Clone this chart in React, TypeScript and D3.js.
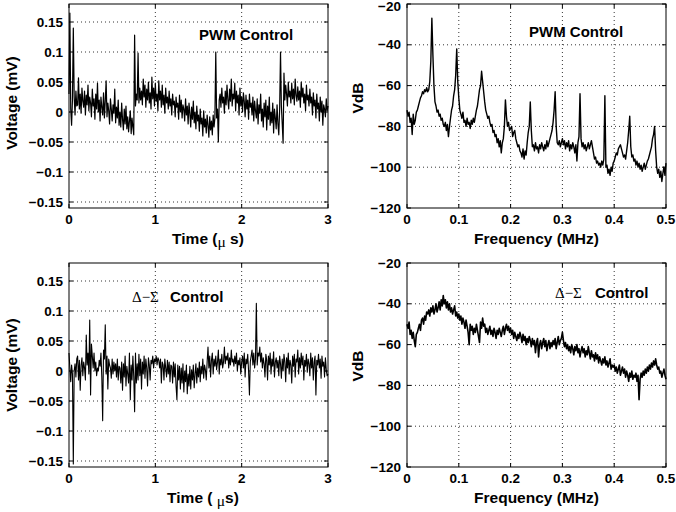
import React from 'react';
import * as d3 from 'd3';

// ---------- axis ticks ----------
const timeTicks = [0, 1, 2, 3];
const timeTickLabels = ['0', '1', '2', '3'];
const voltTicks = [-0.15, -0.1, -0.05, 0, 0.05, 0.1, 0.15];
const voltTickLabels = ['\u22120.15', '\u22120.1', '\u22120.05', '0', '0.05', '0.1', '0.15'];
const freqTicks = [0, 0.1, 0.2, 0.3, 0.4, 0.5];
const freqTickLabels = ['0', '0.1', '0.2', '0.3', '0.4', '0.5'];
const dbTicks = [-120, -100, -80, -60, -40, -20];
const dbTickLabels = ['\u2212120', '\u2212100', '\u221280', '\u221260', '\u221240', '\u221220'];

// sample spacing of the traces
const timeStep = 0.01; // µs
const freqStep = 0.002; // MHz

// ---------- PWM control: time trace (mV), t = 0 .. 3 µs ----------
const pwmTime = [
  .030, .165, .005, -.022, .020, .140, .025, -.005, .035, .010,
  .012, .057, .005, .030, -.002, .040, .018, .008, .035, -.005,
  .028, .012, .045, .002, .025, .015, -.008, .038, .010, .022,
  -.012, .030, .005, .048, .000, .020, -.015, .025, .008, -.005,
  .032, -.010, .018, .052, -.008, .015, .002, -.020, .022, .005,
  -.015, .012, -.002, .038, -.018, .008, -.010, .020, -.022, .000,
  -.025, .015, -.012, -.030, .005, -.020, .010, -.028, -.008, -.033,
  -.015, .002, -.036, -.010, -.025,
  -.038, .128, .010, .030, .020, .098, .015, .040, .020, .035,
  .012, .055, .025, .045, .008, .038, .020, .050, .015, .032,
  .005, .058, .022, .040, .010, .048, .018, .030, .002, .052,
  .020, .035, .008, .045, .012, .028, -.002, .040, .015, .025,
  .005, .035, .010, .022, -.005, .030, .012, .018, -.008, .025,
  .008, .015, -.012, .028, .000, .020, -.010, .012, .005, -.015,
  .022, -.005, .010, -.020, .015, -.002, -.025, .008, -.012, .018,
  -.018, .000, -.028, .010, -.015, -.005, -.032, .005, -.020, -.010,
  -.040, .002, -.025, -.012, -.035, -.005, -.022, -.042, -.008, -.030,
  -.015, -.038, -.005, -.025, -.010,
  .100, -.010, .005, -.050, .020,
  .030, .008, .040, .015, .025, -.002, .035, .012, .045, .020,
  .005, .038, .018, .055, .010, .030, .022, .048, .002, .035,
  .015, .028, -.005, .040, .010, .025, .000, .032, .018, -.008,
  .028, .005, .020, -.012, .030, .008, .015, -.005, .025, -.015,
  .018, .002, -.010, .022, -.020, .012, -.002, .030, -.015, .005,
  -.025, .015, -.008, .020, -.030, .010, -.012, .025, -.022, .000,
  -.018, .015, -.035, .005, -.010, -.028, .012, -.020, -.038, .005,
  .100, .010, -.020, -.052, .065,
  .020, .045, .030, .010, .050, .025, .035, .015, .048, .022,
  .038, .012, .055, .028, .018, .042, .020, .035, .008, .050,
  .025, .040, .015, .030, .002, .045, .020, .028, .010, .038,
  .015, .025, -.005, .032, .010, .020, -.010, .030, .005, .015,
  -.015, .025, .000, .018, -.022, .012, .005, -.008, .022, .002,
  .010,
];

// ---------- Delta-Sigma control: time trace (mV) ----------
const dsTime = [
  .030, .005, -.018, .010, -.005, -.155, .000, .012, -.010, .020,
  .025, -.015, .018, -.032, .010, .022, -.008, .015, .005, -.015,
  .060, .010, .030, -.005, .085, -.040, .045, .025, .005, .030,
  .000, .015, -.008, .005, .000, .018, .008, .030, -.010, -.083,
  .035, .020, .077, -.005, .025, -.030, .020, .010, .005, -.012,
  .020, -.005, .015, .000, .012, -.010, .020, -.015, .008, .005,
  -.020, .015, -.032, .012, -.010, .025, -.025, .008, -.005, -.020,
  .030, -.048, .010, -.015, .025, -.010, -.068, .030, -.020, .012,
  -.015, .028, -.008, .020, -.030, .015, -.005, .025, -.012, .020,
  .005, -.025, .022, .010, -.015, .018, .012, .025, .005, .020,
  .015, .025, .010, .022, .018, .005, .020, -.020, .015, .010,
  -.015, .020, .005, -.010, .018, -.005, .015, -.018, .010, .008,
  -.020, .015, -.010, .012, -.025, -.048, .010, -.015, .008, -.030,
  .005, -.020, .012, -.035, .000, -.018, .010, -.038, -.005, -.025,
  .008, -.030, .002, -.015, .010, -.028, -.005, .012, -.020, .005,
  -.010, .015, -.018, .008, -.005, .020, -.012, .010, .002, -.015,
  .015, .040, .005, .025, -.010, .018, .030, -.005, .020, .008,
  .025, .002, .015, .035, -.005, .020, .010, .028, .005, .015,
  .040, .012, .025, .018, .030, .005, .022, .010, .035, .015,
  .020, .008, .025, .012, .030, .000, .018, .010, .022, -.005,
  .015, .025, .005, .030, -.010, .020, .012, .028, .000, -.040,
  .015, .025, .035, .010, .030, .005, .020, .113, .010, .030,
  .025, .040, .015, .030, .005, .022, .012, -.010, .028, .018,
  -.015, .025, .010, .030, -.005, .020, .008, .032, -.010, .015,
  .022, .005, .018, -.008, .025, .012, -.012, .020, .000, .028,
  .015, -.018, .022, .005, .030, -.005, .018, .010, -.020, .025,
  .008, .028, -.010, .020, .015, .035, -.005, .022, .005, .030,
  .010, .025, -.015, .018, .008, .028, -.002, .020, .012, -.008,
  .030, .005, .022, -.015, .015, .025, -.040, .018, .010, .028,
  .005, .020, -.012, .025, .008, .015, -.010, .022, .002, -.008,
  -.005,
];

// ---------- PWM control: spectrum (VdB), f = 0 .. 0.5 MHz ----------
const pwmSpec = [
  -72, -75, -73, -78, -76, -84, -74, -79, -77, -73,
  -72, -70, -68, -66, -65, -63, -64, -62, -63, -61,
  -63, -62, -58, -48, -27, -45, -60, -68, -70, -73,
  -72, -75, -74, -77, -76, -79, -80, -78, -82, -79,
  -85, -80, -76, -72, -70, -65, -62, -55, -42, -58,
  -66, -72, -74, -76, -73, -78, -77, -80, -76, -79,
  -78, -81, -77, -79, -76, -78, -75, -72, -70, -66,
  -62, -60, -53, -58, -63, -68, -72, -74, -76, -75,
  -78, -80, -79, -83, -82, -85, -84, -88, -86, -90,
  -87, -93, -88, -86, -80, -67, -75, -80, -78, -82,
  -81, -80, -85, -83, -82, -86, -88, -90, -89, -92,
  -93, -95, -91, -96, -92, -94, -88, -83, -80, -68,
  -82, -90, -89, -92, -88, -91, -90, -93, -89, -91,
  -88, -90, -92, -89, -91, -87, -90, -88, -86, -84,
  -82, -78, -72, -63, -80, -88, -89, -87, -90, -88,
  -86, -89, -87, -91, -88, -90, -87, -92, -89, -91,
  -88, -90, -93, -89, -97, -88, -85, -64, -86, -90,
  -88, -91, -89, -92, -90, -88, -91, -89, -87, -90,
  -93, -96, -95, -98, -97, -99, -98, -100, -97, -99,
  -96, -65, -100, -99, -103, -101, -104, -100, -102, -98,
  -97, -95, -93, -94, -91, -90, -89, -91, -93, -95,
  -94, -96, -92, -88, -82, -75, -90, -95, -94, -97,
  -96, -99, -97, -100, -98, -101, -99, -102, -100, -98,
  -101, -99, -97, -96, -94, -92, -90, -86, -84, -80,
  -92, -100, -103, -101, -105, -102, -107, -103, -100, -104,
  -98,
];

// ---------- Delta-Sigma control: spectrum (VdB) ----------
const dsSpec = [
  -50, -52, -49, -55, -53, -57, -54, -58, -61, -55,
  -54, -52, -50, -53, -48, -47, -50, -46, -48, -44,
  -45, -43, -46, -42, -44, -41, -45, -43, -40, -44,
  -42, -39, -43, -38, -41, -36, -40, -38, -42, -39,
  -43, -40, -44, -42, -45, -43, -41, -46, -44, -47,
  -45, -48, -46, -50, -47, -49, -52, -48, -51, -54,
  -60, -50, -53, -51, -55, -52, -54, -50, -53, -56,
  -59, -49, -52, -47, -51, -50, -54, -52, -55, -53,
  -51, -55, -53, -56, -52, -54, -57, -53, -55, -52,
  -54, -56, -53, -51, -55, -52, -50, -53, -51, -54,
  -52, -55, -53, -57, -54, -56, -58, -55, -57, -54,
  -56, -59, -55, -58, -56, -60, -57, -59, -56, -58,
  -61, -57, -60, -58, -64, -59, -57, -66, -60, -58,
  -62, -59, -57, -61, -58, -63, -60, -58, -62, -59,
  -61, -58, -60, -57, -62, -59, -56, -60, -58, -57,
  -54, -58, -61, -59, -62, -60, -63, -61, -64, -60,
  -62, -65, -61, -63, -60, -64, -62, -66, -63, -61,
  -64, -62, -66, -63, -65, -61, -64, -67, -63, -66,
  -65, -68, -64, -67, -65, -69, -66, -68, -70, -67,
  -69, -66, -70, -68, -71, -69, -67, -72, -70, -71,
  -70, -73, -71, -74, -72, -70, -75, -73, -71, -74,
  -72, -76, -73, -75, -78, -74, -76, -73, -77, -75,
  -76, -74, -78, -75, -87, -77, -74, -76, -73, -75,
  -72, -74, -71, -73, -70, -72, -69, -71, -68, -70,
  -67, -70, -72, -71, -74, -73, -76, -74, -72, -75,
  -77,
];

const SANS = '"Liberation Sans", Arial, Helvetica, sans-serif';
const SERIF = '"Liberation Serif", "Times New Roman", serif';

type Box = { l: number; r: number; t: number; b: number };

function Panel(props: {
  box: Box;
  xDomain: [number, number];
  yDomain: [number, number];
  xTicks: number[];
  xTickLabels: string[];
  yTicks: number[];
  yTickLabels: string[];
  values: number[];
  step: number;
  lineWidth: number;
  xTitle: React.ReactNode;
  xTitleX: number;
  yTitle: string;
  yTitleX: number;
  yTitleY: number;
  note: React.ReactNode;
}) {
  const { box, values, step } = props;
  const x = d3.scaleLinear().domain(props.xDomain).range([box.l, box.r]);
  const y = d3.scaleLinear().domain(props.yDomain).range([box.b, box.t]);
  const line = d3
    .line<number>()
    .x((_, i) => x(i * step))
    .y((d) => y(d));
  const tl = 4;
  return (
    <g>
      {props.xTicks.map((t, i) => {
        const px = x(t);
        if (Math.abs(px - box.l) < 1 || Math.abs(px - box.r) < 1) return null;
        return (
          <line key={'gx' + i} x1={px} x2={px} y1={box.t} y2={box.b} stroke="#000" strokeWidth={0.8} strokeDasharray="1 3" />
        );
      })}
      {props.yTicks.map((t, i) => {
        const py = y(t);
        if (Math.abs(py - box.t) < 1 || Math.abs(py - box.b) < 1) return null;
        return (
          <line key={'gy' + i} x1={box.l} x2={box.r} y1={py} y2={py} stroke="#000" strokeWidth={0.8} strokeDasharray="1 3" />
        );
      })}
      <path d={line(values) || ''} fill="none" stroke="#000" strokeWidth={props.lineWidth} strokeLinejoin="round" />
      <rect x={box.l} y={box.t} width={box.r - box.l} height={box.b - box.t} fill="none" stroke="#000" strokeWidth={1} />
      {props.xTicks.map((t, i) => (
        <g key={'tx' + i}>
          <line x1={x(t)} x2={x(t)} y1={box.b} y2={box.b - tl} stroke="#000" />
          <line x1={x(t)} x2={x(t)} y1={box.t} y2={box.t + tl} stroke="#000" />
          <text x={x(t)} y={box.b + 16} textAnchor="middle" fontFamily={SANS} fontWeight="bold" fontSize={13.5}>
            {props.xTickLabels[i]}
          </text>
        </g>
      ))}
      {props.yTicks.map((t, i) => (
        <g key={'ty' + i}>
          <line x1={box.l} x2={box.l + tl} y1={y(t)} y2={y(t)} stroke="#000" />
          <line x1={box.r} x2={box.r - tl} y1={y(t)} y2={y(t)} stroke="#000" />
          <text
            x={box.l - 6}
            y={Math.max(y(t) + 4.6, 11)}
            textAnchor="end"
            fontFamily={SANS}
            fontWeight="bold"
            fontSize={13.5}
          >
            {props.yTickLabels[i]}
          </text>
        </g>
      ))}
      <text x={props.xTitleX} y={box.b + 36} textAnchor="middle" fontFamily={SANS} fontWeight="bold" fontSize={15.5}>
        {props.xTitle}
      </text>
      <text
        transform={`translate(${props.yTitleX},${props.yTitleY}) rotate(-90)`}
        textAnchor="middle"
        fontFamily={SANS}
        fontWeight="bold"
        fontSize={15.5}
      >
        {props.yTitle}
      </text>
      {props.note}
    </g>
  );
}

export default function App() {
  const boxTL: Box = { l: 69, r: 328, t: 4, b: 208 };
  const boxTR: Box = { l: 407, r: 666, t: 4, b: 208 };
  const boxBL: Box = { l: 69, r: 328, t: 263, b: 467 };
  const boxBR: Box = { l: 407, r: 666, t: 263, b: 467 };

  const timeTitleTop = (
    <>
      <tspan>Time (</tspan>
      <tspan fontFamily={SERIF} fontWeight="normal" dy={3}>
        {'\u03bc'}
      </tspan>
      <tspan dy={-3}> s)</tspan>
    </>
  );
  const timeTitleBottom = (
    <>
      <tspan>Time ( </tspan>
      <tspan fontFamily={SERIF} fontWeight="normal" dy={3}>
        {'\u03bc'}
      </tspan>
      <tspan dy={-3}>s)</tspan>
    </>
  );

  const dsNote = (xd: number, xc: number, yb: number) => (
    <g>
      <text x={xd} y={yb} fontFamily={SERIF} fontSize={15}>
        {'\u0394\u2212\u03a3'}
      </text>
      <text x={xc} y={yb} fontFamily={SANS} fontWeight="bold" fontSize={15}>
        Control
      </text>
    </g>
  );

  return (
    <svg width={676} height={512} style={{ position: 'absolute', left: 0, top: 0, background: '#fff' }}>
      <rect x={0} y={0} width={676} height={512} fill="#fff" />
      <Panel
        box={boxTL}
        xDomain={[0, 3]}
        yDomain={[-0.16, 0.18]}
        xTicks={timeTicks}
        xTickLabels={timeTickLabels}
        yTicks={voltTicks}
        yTickLabels={voltTickLabels}
        values={pwmTime}
        step={timeStep}
        lineWidth={1.2}
        xTitle={timeTitleTop}
        xTitleX={208}
        yTitle="Voltage (mV)"
        yTitleX={17}
        yTitleY={103}
        note={
          <text x={199} y={40} fontFamily={SANS} fontWeight="bold" fontSize={15}>
            PWM Control
          </text>
        }
      />
      <Panel
        box={boxTR}
        xDomain={[0, 0.5]}
        yDomain={[-120, -20]}
        xTicks={freqTicks}
        xTickLabels={freqTickLabels}
        yTicks={dbTicks}
        yTickLabels={dbTickLabels}
        values={pwmSpec}
        step={freqStep}
        lineWidth={1.4}
        xTitle="Frequency (MHz)"
        xTitleX={536.5}
        yTitle="VdB"
        yTitleX={363}
        yTitleY={98}
        note={
          <text x={529} y={37} fontFamily={SANS} fontWeight="bold" fontSize={15}>
            PWM Control
          </text>
        }
      />
      <Panel
        box={boxBL}
        xDomain={[0, 3]}
        yDomain={[-0.16, 0.18]}
        xTicks={timeTicks}
        xTickLabels={timeTickLabels}
        yTicks={voltTicks}
        yTickLabels={voltTickLabels}
        values={dsTime}
        step={timeStep}
        lineWidth={1.1}
        xTitle={timeTitleBottom}
        xTitleX={203}
        yTitle="Voltage (mV)"
        yTitleX={17}
        yTitleY={365}
        note={dsNote(132, 170, 302)}
      />
      <Panel
        box={boxBR}
        xDomain={[0, 0.5]}
        yDomain={[-120, -20]}
        xTicks={freqTicks}
        xTickLabels={freqTickLabels}
        yTicks={dbTicks}
        yTickLabels={dbTickLabels}
        values={dsSpec}
        step={freqStep}
        lineWidth={1.6}
        xTitle="Frequency (MHz)"
        xTitleX={536.5}
        yTitle="VdB"
        yTitleX={363}
        yTitleY={366}
        note={dsNote(555, 595, 298)}
      />
    </svg>
  );
}
